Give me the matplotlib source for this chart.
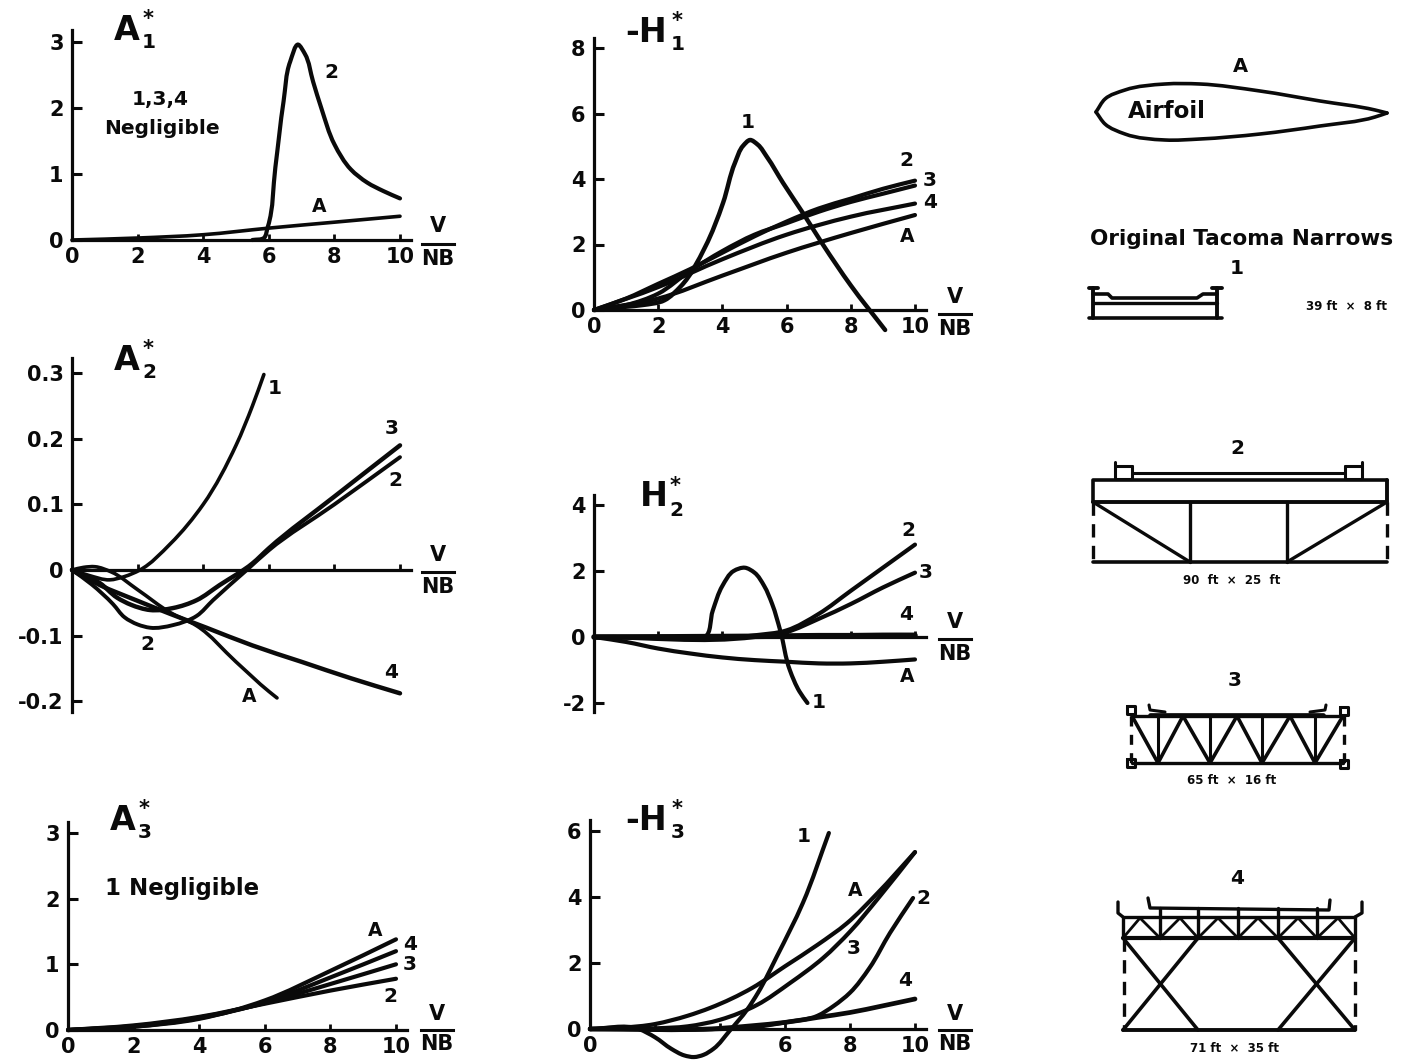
import numpy as np
import matplotlib
matplotlib.use("Agg")
import matplotlib.pyplot as plt
from matplotlib.patches import PathPatch
from matplotlib.path import Path

plt.rcParams["font.family"] = ["DejaVu Sans"]
plt.rcParams["font.weight"] = "bold"

W, H = 1402, 1060
INK = "#0a0a0a"

# values: (V/NB, value)
even_v = [0, 2, 4, 6, 8, 10]
even_labels = ["0", "2", "4", "6", "8", "10"]
no_labels = ["", "", "", "", "", ""]
h3_labels = ["0", "", "", "6", "8", "10"]

a1_2_v = [5.5, 5.85, 5.97, 6.2, 6.45, 6.65, 6.9, 7.1, 7.35, 7.6, 8.0, 8.5, 9.0, 9.5, 10.0]
a1_2 = [0, 0.03, 0.2, 1.1, 2.1, 2.7, 2.96, 2.82, 2.4, 2.0, 1.45, 1.07, 0.87, 0.74, 0.63]
a1_a = [0, 0.03, 0.08, 0.18, 0.27, 0.36]

h1_1_v = [0, 1, 1.5, 2.2, 2.7, 3.46, 4.02, 4.39, 4.65, 4.86, 5.1, 5.39, 5.89, 6.51, 7.13, 8, 9.07]
h1_1 = [0, 0.1, 0.15, 0.3, 0.72, 1.92, 3.27, 4.49, 5.02, 5.19, 5.05, 4.67, 3.88, 2.96, 2.0, 0.75, -0.61]
h1_2_v = [0, 1, 2, 3, 4, 5, 6, 7, 8, 9, 10]
h1_2 = [0, 0.35, 0.8, 1.25, 1.75, 2.25, 2.7, 3.1, 3.4, 3.7, 3.95]
h1_3 = [0, 0.15, 0.5, 1.2, 1.8, 2.3, 2.65, 3.0, 3.3, 3.55, 3.8]
h1_4 = [0, 0.7, 1.55, 2.3, 2.85, 3.25]
h1_a = [0, 0.35, 1.05, 1.75, 2.35, 2.9]

a2_1_v = [0, 0.5, 1.15, 1.6, 2.07, 3, 4, 5, 5.5, 5.85]
a2_1 = [0, -0.008, -0.015, -0.01, 0, 0.04, 0.1, 0.19, 0.25, 0.298]
a2_a_v = [0, 0.35, 0.7, 1.2, 2, 3, 3.8, 5, 6, 6.25]
a2_a = [0, 0.004, 0.005, -0.003, -0.03, -0.065, -0.085, -0.14, -0.185, -0.195]
a2_2_v = [0, 0.6, 1.25, 1.6, 2, 2.38, 3.08, 3.8, 4.3, 5.33, 6, 8, 10]
a2_2 = [0, -0.022, -0.052, -0.072, -0.083, -0.088, -0.084, -0.07, -0.046, 0, 0.03, 0.1, 0.172]
a2_3_v = [0, 0.85, 1.37, 1.8, 2.38, 3.08, 3.8, 4.5, 5.5, 6, 8, 10]
a2_3 = [0, -0.02, -0.042, -0.053, -0.061, -0.058, -0.046, -0.023, 0.01, 0.033, 0.112, 0.19]
a2_4_v = [0, 0.85, 2, 3, 4.1, 5.5, 7, 8.5, 10]
a2_4 = [0, -0.023, -0.047, -0.067, -0.088, -0.115, -0.14, -0.165, -0.188]

h2_1_v = [0, 1, 2, 3, 3.45, 3.7, 4.0, 4.35, 4.7, 5.0, 5.3, 5.55, 5.8, 6.1, 6.4, 6.65]
h2_1 = [0, 0, -0.02, -0.05, 0, 0.8, 1.55, 2.0, 2.1, 1.95, 1.55, 1.0, 0.2, -1.0, -1.65, -2.0]
h2_2_v = [0, 5, 6, 7, 8, 9, 10]
h2_2 = [0, 0.05, 0.2, 0.7, 1.4, 2.1, 2.8]
h2_3 = [0, 0, 0.15, 0.55, 1.0, 1.5, 1.95]
h2_4 = [0, 0.02, 0.03, 0.04, 0.04, 0.05, 0.05]
h2_a_v = [0, 1, 2, 3, 4, 5, 6, 7, 8, 9, 10]
h2_a = [0, -0.15, -0.35, -0.5, -0.62, -0.7, -0.75, -0.8, -0.8, -0.75, -0.68]

a3_a = [0, 0.05, 0.17, 0.45, 0.9, 1.38]
a3_4 = [0, 0.05, 0.18, 0.42, 0.8, 1.2]
a3_3 = [0, 0.06, 0.19, 0.41, 0.7, 1.0]
a3_2 = [0, 0.07, 0.2, 0.4, 0.6, 0.78]

h3_1_v = [0, 1.5, 2, 2.5, 2.9, 3.2, 3.5, 3.8, 4.3, 4.83, 5.17, 5.75, 6.55, 7.35]
h3_1 = [0, 0, -0.25, -0.6, -0.8, -0.85, -0.78, -0.6, -0.05, 0.58, 1.1, 2.2, 3.82, 5.94]
h3_a_v = [0, 2, 3, 3.7, 5, 6, 7, 7.9, 8.83, 10]
h3_a = [0, 0.15, 0.4, 0.64, 1.25, 1.9, 2.55, 3.2, 4.1, 5.36]
h3_3_v = [0, 2, 3, 4, 5.14, 6.15, 7.17, 8, 8.9, 10]
h3_3 = [0, 0.02, 0.08, 0.28, 0.73, 1.39, 2.15, 2.95, 4.0, 5.36]
h3_2_v = [0, 4, 5, 6, 7, 7.5, 8, 8.6, 9.23, 9.94]
h3_2 = [0, 0, 0.05, 0.2, 0.4, 0.7, 1.1, 1.85, 2.91, 3.97]
h3_4_v = [0, 4, 5, 6, 7, 8, 9, 10]
h3_4 = [0, 0.02, 0.1, 0.2, 0.35, 0.5, 0.7, 0.91]

fig = plt.figure(figsize=(W / 100, H / 100), dpi=100, facecolor="white")

# overlay in image pixels, for the lettering and the deck sections
ov = fig.add_axes([0, 0, 1, 1], zorder=5)
ov.set_xlim(0, W)
ov.set_ylim(H, 0)
ov.axis("off")
ov.patch.set_alpha(0)


def panel(x0, xunit, y0, yunit, ymin, ymax, yticks, ylabels, xlabels, axis_low=None):
    xmax = 10.35
    ax = fig.add_axes([x0 / W, (H - (y0 - ymin * yunit)) / H, xmax * xunit / W,
                       (ymax - ymin) * yunit / H])
    ax.set_xlim(0, xmax)
    ax.set_ylim(ymin, ymax)
    ax.patch.set_alpha(0)
    for side in ("top", "right"):
        ax.spines[side].set_visible(False)
    for side in ("left", "bottom"):
        ax.spines[side].set_linewidth(2.3)
        ax.spines[side].set_position(("data", 0))
        ax.spines[side].set_color(INK)
    if axis_low is not None:
        ax.spines["left"].set_bounds(axis_low, ymax)
    ax.set_yticks(yticks, ylabels, fontsize=15, color=INK)
    ax.set_xticks(even_v, xlabels, fontsize=15, color=INK)
    ax.tick_params(axis="y", direction="in", length=7, width=2.2, pad=6, color=INK)
    ax.tick_params(axis="x", direction="in", length=4, width=2.0, pad=5, color=INK)
    return ax


def smooth(ax, xs, ys, lw):
    # bezier through the read points, so the curves are not faceted
    pts = np.column_stack([xs, ys]).astype(float)
    disp = ax.transData.transform(pts)
    t = np.r_[0, np.cumsum(np.hypot(*np.diff(disp, axis=0).T))]
    tang = np.gradient(pts, t, axis=0)
    verts = [pts[0]]
    for i in range(len(pts) - 1):
        h = (t[i + 1] - t[i]) / 3
        verts += [pts[i] + tang[i] * h, pts[i + 1] - tang[i + 1] * h, pts[i + 1]]
    codes = [Path.MOVETO] + [Path.CURVE4] * (len(verts) - 1)
    ax.add_patch(PathPatch(Path(verts, codes), fill=False, edgecolor=INK, lw=lw,
                           capstyle="round", joinstyle="round", clip_on=False))


def curve(ax, v, y, lw=3.0):
    smooth(ax, v, y, lw)


def label(x, y, s, size=14.5, **kw):
    ov.text(x, y, s, fontsize=size, ha=kw.pop("ha", "center"), va="center", color=INK, **kw)


def title(x, y, s, sub):
    label(x, y, s, size=24, ha="left")
    w = {"A": 34, "H": 35, "-H": 52}[s]
    label(x + w, y - 11, "*", size=15)
    label(x + w + 1, y + 13, sub, size=14.5)


def vnb(x, yv, ynb):
    label(x, yv, "V", size=15)
    ov.plot([x - 16, x + 16], [(yv + ynb) / 2 + 1] * 2, color=INK, lw=2.2)
    label(x, ynb, "NB", size=15)


def pline(xs, ys, lw=2.4, **kw):
    ov.plot(xs, ys, color=INK, lw=lw, solid_capstyle="round", solid_joinstyle="round", **kw)


# A1*
ax = panel(72, 32.8, 240, 66, 0, 3.18, [0, 1, 2, 3], ["0", "1", "2", "3"], even_labels)
curve(ax, a1_2_v, a1_2)
curve(ax, even_v, a1_a, lw=2.6)
title(114, 30, "A", "1")
label(160, 100, "1,3,4")
label(162, 128, "Negligible")
label(331, 72, "2")
label(319, 206, "A", size=13.5)
vnb(438, 226, 259)

# -H1*
ax = panel(594, 32.1, 310, 32.75, 0, 8.3, [0, 2, 4, 6, 8], ["0", "2", "4", "6", "8"], even_labels)
curve(ax, h1_1_v, h1_1, lw=3.2)
curve(ax, h1_2_v, h1_2)
curve(ax, h1_2_v, h1_3)
curve(ax, even_v, h1_4)
curve(ax, even_v, h1_a)
title(625, 32, "-H", "1")
label(748, 122, "1")
label(906, 161, "2")
label(930, 181, "3")
label(930, 203, "4")
label(907, 236, "A", size=13.5)
vnb(955, 297, 329)

# A2*
ax = panel(72, 32.8, 570, 656, -0.216, 0.323, [-0.2, -0.1, 0, 0.1, 0.2, 0.3],
           ["-0.2", "-0.1", "0", "0.1", "0.2", "0.3"], no_labels)
curve(ax, a2_1_v, a2_1, lw=2.6)
curve(ax, a2_a_v, a2_a, lw=2.6)
curve(ax, a2_2_v, a2_2, lw=2.8)
curve(ax, a2_3_v, a2_3, lw=3.2)
curve(ax, a2_4_v, a2_4, lw=3.2)
title(114, 360, "A", "2")
label(275, 388, "1")
label(392, 429, "3")
label(395, 481, "2")
label(391, 673, "4")
label(249, 697, "A", size=13.5)
label(147, 644, "2")
vnb(438, 555, 587)

# H2*
ax = panel(594, 32.1, 637, 33, -2.27, 4.3, [-2, 0, 2, 4], ["-2", "0", "2", "4"], no_labels)
curve(ax, h2_1_v, h2_1)
curve(ax, h2_2_v, h2_2)
curve(ax, h2_2_v, h2_3)
curve(ax, h2_2_v, h2_4, lw=4.0)
curve(ax, h2_a_v, h2_a)
title(640, 497, "H", "2")
label(908, 530, "2")
label(926, 572, "3")
label(906, 614, "4")
label(907, 676, "A", size=13.5)
label(819, 703, "1")
vnb(955, 622, 654)

# A3*
ax = panel(68, 32.8, 1030, 65.7, 0, 3.17, [0, 1, 2, 3], ["0", "1", "2", "3"], even_labels)
curve(ax, even_v, a3_a)
curve(ax, even_v, a3_4)
curve(ax, even_v, a3_3)
curve(ax, even_v, a3_2)
title(110, 820, "A", "3")
label(182, 889, "1 Negligible", size=16.5)
label(375, 930, "A", size=13.5)
label(410, 944, "4")
label(410, 964, "3")
label(390, 997, "2")
vnb(437, 1014, 1044)

# -H3*
ax = panel(590, 32.5, 1029, 33, -0.85, 6.33, [0, 2, 4, 6], ["0", "2", "4", "6"], h3_labels, axis_low=0)
curve(ax, h3_1_v, h3_1)
curve(ax, h3_a_v, h3_a)
curve(ax, h3_3_v, h3_3)
curve(ax, h3_2_v, h3_2)
curve(ax, h3_4_v, h3_4, lw=3.4)
title(625, 820, "-H", "3")
label(804, 836, "1")
label(855, 890, "A", size=13.5)
label(854, 948, "3")
label(923, 899, "2")
label(905, 981, "4")
vnb(955, 1014, 1044)

# airfoil section
foil_top_x = [1387, 1375, 1320, 1260, 1200, 1165, 1125, 1105, 1096]
foil_top_y = [113, 110, 101, 91, 84, 84, 90, 99, 112]
foil_low_x = [1096, 1105, 1125, 1165, 1200, 1260, 1320, 1375, 1387]
foil_low_y = [112, 124, 134, 140, 139, 134, 126, 117, 113]
smooth(ov, foil_top_x, foil_top_y, 2.6)
smooth(ov, foil_low_x, foil_low_y, 2.6)
label(1240, 66, "A", size=14)
label(1167, 112, "Airfoil", size=16.5)

# section 1
label(1242, 239, "Original Tacoma Narrows", size=15.5)
label(1237, 268, "1")
label(1347, 306, "39 ft  ×  8 ft", size=8.5)
pline([1093, 1093], [288, 318], lw=2.8)
pline([1217, 1217], [288, 318], lw=2.8)
pline([1089, 1098], [288, 288], lw=2.8)
pline([1212, 1222], [288, 288], lw=2.8)
pline([1089, 1222], [318, 318], lw=2.6)
pline([1093, 1217], [303, 303], lw=2.4)
pline([1093, 1108, 1112, 1197, 1203, 1217], [294, 294, 298, 298, 294, 294], lw=2.6)

# section 2
label(1237, 448, "2")
label(1232, 580, "90  ft  ×  25  ft", size=8.5)
pline([1093, 1387, 1387], [502, 502, 480], lw=2.8)
pline([1093, 1093, 1387], [502, 480, 480], lw=2.6)
pline([1093, 1387], [562, 562], lw=2.6)
pline([1190, 1190], [502, 562])
pline([1287, 1287], [502, 562])
pline([1093, 1190], [502, 562])
pline([1387, 1287], [502, 562])
pline([1093, 1093], [502, 562], ls=(0, (4, 2.5)))
pline([1387, 1387], [502, 562], ls=(0, (4, 2.5)))
pline([1115, 1115, 1132, 1132], [462, 479, 479, 466], lw=2.2)
pline([1115, 1132], [466, 466], lw=2.2)
pline([1345, 1345, 1362, 1362], [466, 479, 479, 462], lw=2.2)
pline([1345, 1362], [466, 466], lw=2.2)
pline([1132, 1345], [473, 473], lw=2.2)

# section 3
label(1235, 680, "3")
label(1232, 781, "65 ft  ×  16 ft", size=8.5)
top3 = [1132, 1183, 1237, 1290, 1343]
low3 = [1158, 1210, 1262, 1315]
pline([1132, 1343], [716, 716])
pline([1150, 1323], [715, 715], lw=3.4)
pline([1132, 1343], [763, 763])
for i, xb in enumerate(low3):
    pline([top3[i], xb, top3[i + 1]], [716, 763, 716], lw=2.6)
    pline([xb, xb], [716, 763], lw=2.2)
pline([1131, 1131], [716, 763], ls=(0, (3, 2.5)))
pline([1344, 1344], [716, 763], ls=(0, (3, 2.5)))
pline([1149, 1150, 1165], [705, 710, 712], lw=2.2)
pline([1326, 1325, 1310], [705, 710, 712], lw=2.2)
for cx, cy in [(1131, 710), (1344, 711), (1131, 763), (1344, 764)]:
    pline([cx - 4, cx + 4, cx + 4, cx - 4, cx - 4], [cy - 4, cy - 4, cy + 4, cy + 4, cy - 4], lw=2.2)

# section 4
label(1237, 878, "4")
label(1235, 1048, "71 ft  ×  35 ft", size=8.5)
pline([1123, 1355], [917, 917])
pline([1123, 1355], [938, 938], lw=3.0)
pline([1123, 1355], [1030, 1030], lw=2.8)
post4 = [1123, 1160, 1198, 1238, 1278, 1317, 1355]
mid4 = [1140, 1180, 1218, 1258, 1298, 1338]
for i, xm in enumerate(mid4):
    pline([post4[i], xm, post4[i + 1]], [938, 918, 938], lw=2.0)
for xp in post4:
    pline([xp, xp], [908 if 1123 < xp < 1355 else 917, 938], lw=2.4)
pline([1118, 1118, 1123], [902, 913, 917], lw=2.4)
pline([1362, 1362, 1355], [902, 913, 917], lw=2.4)
pline([1148, 1150, 1329, 1330], [898, 908, 910, 900], lw=2.4)
pline([1123, 1198], [938, 1030], lw=2.6)
pline([1198, 1123], [938, 1030], lw=2.6)
pline([1278, 1355], [938, 1030], lw=2.6)
pline([1355, 1278], [938, 1030], lw=2.6)
pline([1124, 1124], [938, 1030], ls=(0, (4, 2.5)))
pline([1355, 1355], [938, 1030], ls=(0, (4, 2.5)))

fig.savefig("out.png", dpi=100, facecolor="white")
